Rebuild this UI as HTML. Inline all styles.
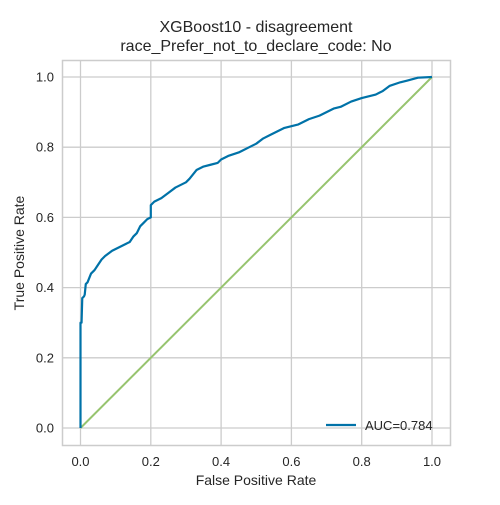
<!DOCTYPE html>
<html><head><meta charset="utf-8"><style>
body{margin:0;background:#fff;font-family:"Liberation Sans",sans-serif}
text{font-family:"Liberation Sans",sans-serif;fill:#262626}
</style></head><body>
<svg id="chart" width="500" height="500">
<rect x="0" y="0" width="500" height="500" fill="#fff"/>
<g id="grid"></g>
<rect x="62.5" y="60.5" width="388" height="385" fill="none" stroke="#ccc" stroke-width="1.5"/>
<text x="256" y="32" font-size="16" text-anchor="middle">XGBoost10 - disagreement</text>
<text x="256" y="51" font-size="16" text-anchor="middle">race_Prefer_not_to_declare_code: No</text>
<text x="256" y="485" font-size="14" text-anchor="middle">False Positive Rate</text>
<text x="24" y="253" font-size="14" text-anchor="middle" transform="rotate(-90 24 253)">True Positive Rate</text>
<g id="ticks"></g>
<line id="diag" stroke="#97c46f" stroke-width="2"/>
<polyline id="roc" fill="none" stroke="#0072a8" stroke-width="2.2" stroke-linejoin="round"/>
<g>
<line x1="326" y1="425" x2="356" y2="425" stroke="#0072a8" stroke-width="2.2"/>
<text x="365" y="430" font-size="13">AUC=0.784</text>
</g>
</svg>
<script>
const tickValues=[0,0.2,0.4,0.6,0.8,1.0];
const tickLabels=["0.0","0.2","0.4","0.6","0.8","1.0"];
const fpr=[0,0,0.003,0.005,0.01,0.012,0.015,0.02,0.03,0.04,0.05,0.06,0.07,0.09,0.11,0.13,0.14,0.15,0.16,0.17,0.18,0.19,0.2,0.2,0.21,0.23,0.25,0.27,0.29,0.3,0.31,0.33,0.35,0.37,0.39,0.4,0.42,0.45,0.46,0.48,0.5,0.52,0.54,0.56,0.58,0.6,0.62,0.65,0.68,0.7,0.72,0.74,0.77,0.8,0.82,0.84,0.85,0.86,0.88,0.91,0.93,0.96,1];
const tpr=[0,0.3,0.3,0.37,0.375,0.38,0.41,0.415,0.44,0.45,0.465,0.48,0.49,0.505,0.515,0.525,0.53,0.545,0.555,0.575,0.585,0.595,0.6,0.635,0.645,0.655,0.67,0.685,0.695,0.7,0.71,0.735,0.745,0.75,0.755,0.765,0.775,0.785,0.79,0.8,0.81,0.825,0.835,0.845,0.855,0.86,0.865,0.88,0.89,0.9,0.91,0.915,0.93,0.94,0.945,0.95,0.955,0.96,0.975,0.985,0.99,0.998,1];
const sx=v=>80.5+v*351.5, sy=v=>428-v*351;
const NS="http://www.w3.org/2000/svg";
const grid=document.getElementById('grid'), ticks=document.getElementById('ticks');
tickValues.forEach((v,i)=>{
 let l=document.createElementNS(NS,'line');
 l.setAttribute('x1',sx(v));l.setAttribute('x2',sx(v));l.setAttribute('y1',60);l.setAttribute('y2',445);
 l.setAttribute('stroke','#ccc');l.setAttribute('stroke-width','1.3');
 
 
 grid.appendChild(l);
 let h=document.createElementNS(NS,'line');
 h.setAttribute('y1',sy(v));h.setAttribute('y2',sy(v));h.setAttribute('x1',62);h.setAttribute('x2',450);
 h.setAttribute('stroke','#ccc');h.setAttribute('stroke-width','1.3');
 
 
 grid.appendChild(h);
 let t=document.createElementNS(NS,'text');
 t.setAttribute('x',sx(v));t.setAttribute('y',466);t.setAttribute('font-size','13');t.setAttribute('text-anchor','middle');
 t.textContent=tickLabels[i];
 
 
 ticks.appendChild(t);
 let u=document.createElementNS(NS,'text');
 u.setAttribute('x',54);u.setAttribute('y',sy(v)+4.5);u.setAttribute('font-size','13');u.setAttribute('text-anchor','end');
 u.textContent=tickLabels[i];
 
 
 ticks.appendChild(u);
});
const d=document.getElementById('diag');
d.setAttribute('x1',sx(0));d.setAttribute('y1',sy(0));d.setAttribute('x2',sx(1));d.setAttribute('y2',sy(1));
let pts=[];
for(let i=0;i<fpr.length;i++){
 pts.push(sx(fpr[i])+','+sy(tpr[i]));
}
document.getElementById('roc').setAttribute('points',pts.join(' '));
</script>
</body></html>
